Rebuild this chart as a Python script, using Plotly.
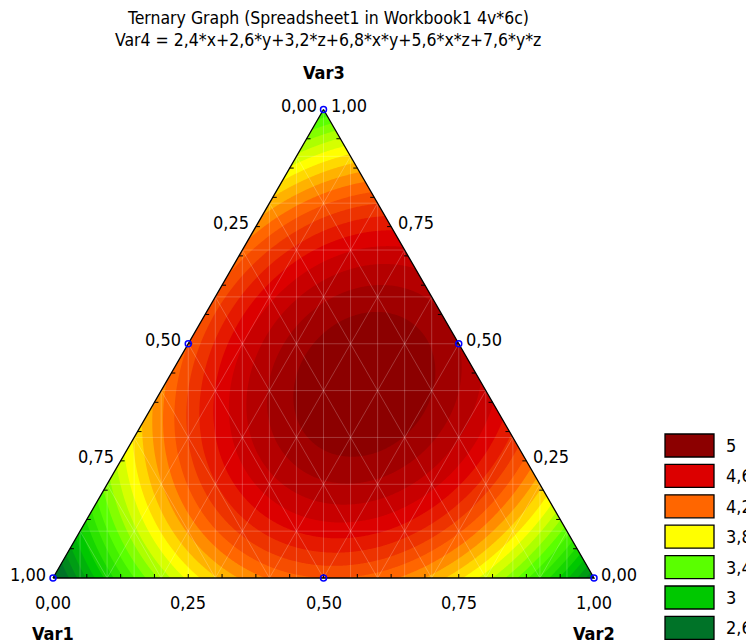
import numpy as np
import plotly.graph_objects as go

# ---- data ----
title_line1 = "Ternary Graph (Spreadsheet1 in Workbook1 4v*6c)"
title_line2 = "Var4 = 2,4*x+2,6*y+3,2*z+6,8*x*y+5,6*x*z+7,6*y*z"
var_names = ["Var1", "Var2", "Var3"]
# model coefficients: x, y, z, xy, xz, yz
lin_coef = [2.4, 2.6, 3.2]
int_coef = [6.8, 5.6, 7.6]
# design points (Var1, Var2, Var3)
pts_v1 = [1.0, 0.0, 0.0, 0.5, 0.5, 0.0]
pts_v2 = [0.0, 1.0, 0.0, 0.5, 0.0, 0.5]
pts_v3 = [0.0, 0.0, 1.0, 0.0, 0.5, 0.5]
tick_vals = [0.0, 0.25, 0.5, 0.75, 1.0]
tick_text = ["0,00", "0,25", "0,50", "0,75", "1,00"]
legend_levels = [5.0, 4.6, 4.2, 3.8, 3.4, 3.0, 2.6]
legend_labels = ["5", "4,6", "4,2", "3,8", "3,4", "3", "2,6"]
legend_colors = ["#8c0000", "#dc0000", "#ff6600", "#ffff00", "#5aff00", "#00c800", "#007328"]
level_start, level_end, level_step = 2.5, 5.0, 0.1

FONT = "DejaVu Sans Condensed, Liberation Sans Narrow, Arial Narrow, sans-serif"
H = np.sqrt(3) / 2
OFF = 8  # page body margin
W_PX, H_PX = 754 - OFF, 644 - OFF
X0, Y0, SIDE = 53 - OFF, 578 - OFF, 541  # pixel geometry of triangle (figure coords)


def px(x, y):
    """reference-pixel -> data coordinates"""
    return (x - OFF - X0) / SIDE, (Y0 - (y - OFF)) / SIDE


def bary_to_xy(v1, v2, v3):
    v1, v2, v3 = np.asarray(v1), np.asarray(v2), np.asarray(v3)
    return v2 + v3 / 2, v3 * H


def hex2rgb(h):
    h = h.lstrip("#")
    return np.array([int(h[i:i + 2], 16) for i in (0, 2, 4)], float)


anchor_vals = legend_levels[::-1]
anchor_rgb = [hex2rgb(c) for c in legend_colors[::-1]]


def color_at(v):
    rgb = [np.interp(v, anchor_vals, [c[i] for c in anchor_rgb]) for i in range(3)]
    return "rgb(%d,%d,%d)" % tuple(int(round(c)) for c in rgb)


# ---- surface ----
gx = np.linspace(0, 1, 541)
gy = np.linspace(0, H, 470)
XX, YY = np.meshgrid(gx, gy)
V3 = YY / H
V2 = XX - V3 / 2
V1 = 1 - V2 - V3
Z = (lin_coef[0] * V1 + lin_coef[1] * V2 + lin_coef[2] * V3
     + int_coef[0] * V1 * V2 + int_coef[1] * V1 * V3 + int_coef[2] * V2 * V3)

n_levels = int(round((level_end - level_start) / level_step)) + 1
colorscale = []
for k in range(n_levels + 1):
    colorscale.append([k / n_levels, color_at(level_start + level_step * k)])

fig = go.Figure()
fig.add_trace(go.Contour(
    x=gx, y=gy, z=Z,
    colorscale=colorscale,
    contours=dict(start=level_start, end=level_end, size=level_step, coloring="fill"),
    line=dict(width=0),
    showscale=False, hoverinfo="skip",
))

# mask outside triangle
fig.add_trace(go.Scatter(x=[-0.05, 0, 0.5, 0.5, -0.05, -0.05], y=[0, 0, H, H + 0.05, H + 0.05, 0],
                         fill="toself", fillcolor="white", line=dict(width=0), mode="lines",
                         hoverinfo="skip", showlegend=False))
fig.add_trace(go.Scatter(x=[1.05, 1, 0.5, 0.5, 1.05, 1.05], y=[0, 0, H, H + 0.05, H + 0.05, 0],
                         fill="toself", fillcolor="white", line=dict(width=0), mode="lines",
                         hoverinfo="skip", showlegend=False))

# mesh grid lines (triangular lattice + verticals)
mx, my = [], []
for t in np.arange(0.1, 1.0, 0.1):
    for a, b in [((t, 1 - t, 0), (t, 0, 1 - t)),
                 ((1 - t, t, 0), (0, t, 1 - t)),
                 ((1 - t, 0, t), (0, 1 - t, t))]:
        xa, ya = bary_to_xy(*a)
        xb, yb = bary_to_xy(*b)
        mx += [float(xa), float(xb), None]
        my += [float(ya), float(yb), None]
for k in range(1, 20):
    xv = k / 20
    mx += [xv, xv, None]
    my += [0.0, float(min(xv, 1 - xv) * 2 * H), None]
fig.add_trace(go.Scatter(x=mx, y=my, mode="lines", line=dict(color="rgba(255,255,255,0.28)", width=0.8),
                         hoverinfo="skip", showlegend=False))

# triangle outline
fig.add_trace(go.Scatter(x=[0, 1, 0.5, 0], y=[0, 0, H, 0], mode="lines",
                         line=dict(color="black", width=1.3), hoverinfo="skip", showlegend=False))

# tick marks every 1/16
tl = 4 / SIDE
tx, ty = [], []
for k in range(1, 16):
    t = k / 16
    tx += [t, t, None]; ty += [0, tl, None]
    lx, ly = t / 2, t * H
    tx += [lx, lx + tl, None]; ty += [ly, ly, None]
    rx, ry = 1 - t / 2, t * H
    tx += [rx, rx - tl, None]; ty += [ry, ry, None]
fig.add_trace(go.Scatter(x=tx, y=ty, mode="lines", line=dict(color="black", width=1),
                         hoverinfo="skip", showlegend=False))

# design points
dx, dy = bary_to_xy(pts_v1, pts_v2, pts_v3)
fig.add_trace(go.Scatter(x=dx, y=dy, mode="markers", cliponaxis=False,
                         marker=dict(symbol="circle-open", color="blue", size=6, line=dict(width=1.5)),
                         hoverinfo="skip", showlegend=False))

ann = []
fs = 18
# bottom axis (Var2)
for v, s in zip(tick_vals, tick_text):
    ann.append(dict(x=v, y=0, text=s, xanchor="center", yanchor="top", yshift=-12, showarrow=False,
                    font=dict(size=fs)))
# left edge (Var1: 1 at bottom, 0 at top)
for v, s in zip(tick_vals, tick_text):
    x, y = bary_to_xy(v, 0, 1 - v)
    ann.append(dict(x=float(x), y=float(y), text=s, xanchor="right", yanchor="middle", xshift=-5, yshift=4,
                    showarrow=False, font=dict(size=fs)))
# right edge (Var3)
for v, s in zip(tick_vals, tick_text):
    x, y = bary_to_xy(0, 1 - v, v)
    ann.append(dict(x=float(x), y=float(y), text=s, xanchor="left", yanchor="middle", xshift=5, yshift=4,
                    showarrow=False, font=dict(size=fs)))
# axis names
for name, (x, y) in zip(var_names, [(0, 0), (1, 0), (0.5, H)]):
    if name == "Var3":
        ann.append(dict(x=x, y=y, text="<b>%s</b>" % name, xanchor="center", yanchor="bottom", yshift=24,
                        showarrow=False, font=dict(size=fs)))
    else:
        ann.append(dict(x=x, y=y, text="<b>%s</b>" % name, xanchor="center", yanchor="top", yshift=-43,
                        showarrow=False, font=dict(size=fs)))
# title
tx1, ty1 = px(328, 18)
tx2, ty2 = px(328, 40)
ann.append(dict(x=tx1, y=ty1, text=title_line1, xanchor="center", yanchor="middle", showarrow=False,
                font=dict(size=17.5)))
ann.append(dict(x=tx2, y=ty2, text=title_line2, xanchor="center", yanchor="middle", showarrow=False,
                font=dict(size=17.5)))

# legend (boxes + labels)
shapes = []
for i, (lab, col) in enumerate(zip(legend_labels, legend_colors)):
    top = 434 + i * 30.4
    x0, y0 = px(665, top)
    x1, y1 = px(714, top + 23)
    shapes.append(dict(type="rect", x0=x0, x1=x1, y0=y1, y1=y0, fillcolor=col,
                       line=dict(color="black", width=1.3)))
    lx, ly = px(724, top + 11.5)
    ann.append(dict(x=lx, y=ly, text=lab, xanchor="left", yanchor="middle", showarrow=False,
                    font=dict(size=fs)))

xr0 = -X0 / SIDE
xr1 = (W_PX - X0) / SIDE
yr0 = (Y0 - H_PX) / SIDE
yr1 = Y0 / SIDE
fig.update_layout(
    width=W_PX, height=H_PX, margin=dict(l=0, r=0, t=0, b=0),
    paper_bgcolor="white", plot_bgcolor="white",
    font=dict(family=FONT, color="black", size=fs),
    xaxis=dict(range=[xr0, xr1], visible=False, fixedrange=True),
    yaxis=dict(range=[yr0, yr1], visible=False, fixedrange=True),
    annotations=ann, shapes=shapes, showlegend=False,
)
fig.write_html("out.html")
